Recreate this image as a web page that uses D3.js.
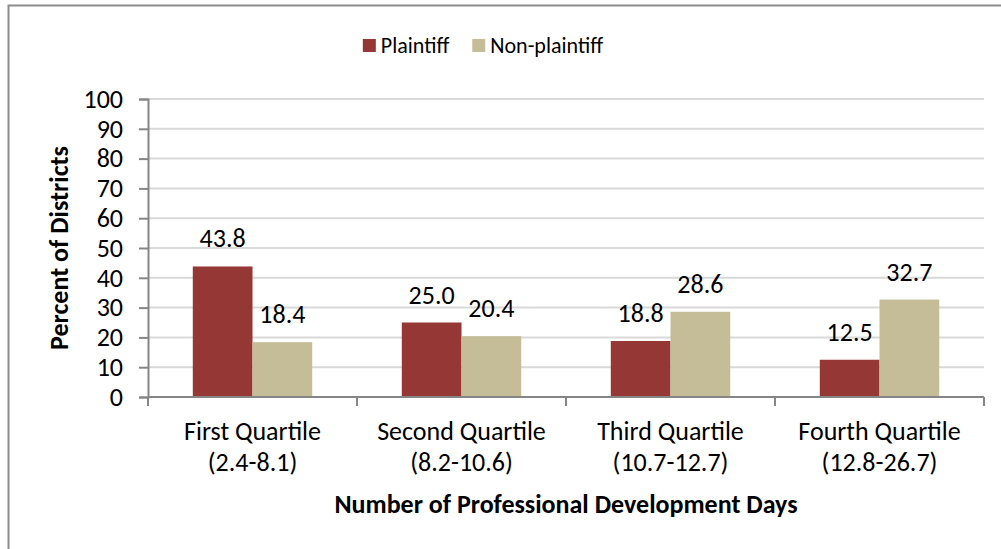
<!DOCTYPE html>
<html>
<head>
<meta charset="utf-8">
<script src="https://cdn.jsdelivr.net/npm/d3@7"></script>
<style>
  body { margin: 0; background: #fff; }
  text { font-family: Calibri, Carlito, Lato, sans-serif; fill: #000; }
</style>
</head>
<body>
<script>
// chart data
var categories = ['First Quartile', 'Second Quartile', 'Third Quartile', 'Fourth Quartile'];
var ranges = ['(2.4-8.1)', '(8.2-10.6)', '(10.7-12.7)', '(12.8-26.7)'];
var seriesNames = ['Plaintiff', 'Non-plaintiff'];
var plaintiff = [43.8, 25.0, 18.8, 12.5];
var nonPlaintiff = [18.4, 20.4, 28.6, 32.7];
var yTicks = [0, 10, 20, 30, 40, 50, 60, 70, 80, 90, 100];

var colors = { 'Plaintiff': '#953735', 'Non-plaintiff': '#c4bd97' };
var W = 1001, H = 549;
var plotLeft = 148, plotRight = 984, plotTop = 99, plotBottom = 397;

var svg = d3.select('body').append('svg')
    .attr('width', W)
    .attr('height', H);

// outer frame (only top and left edges are visible)
svg.append('path')
    .attr('d', 'M8.5,' + H + 'V5.5H' + W)
    .attr('fill', 'none')
    .attr('stroke', '#8c8c8c')
    .attr('stroke-width', 2);

var y = d3.scaleLinear().domain([0, 100]).range([plotBottom, plotTop]);
var x0 = d3.scaleBand().domain(categories).range([plotLeft, plotRight]);
var gap = x0.bandwidth() * 1.5 / 3.5;
var x1 = d3.scaleBand().domain(seriesNames).range([gap / 2, x0.bandwidth() - gap / 2]);

// gridlines
svg.append('g').selectAll('line')
    .data(yTicks.filter(function(d) { return d > 0; }))
    .enter().append('line')
    .attr('x1', plotLeft).attr('x2', plotRight)
    .attr('y1', function(d) { return y(d); })
    .attr('y2', function(d) { return y(d); })
    .attr('stroke', '#d9d9d9')
    .attr('stroke-width', 2);

// bars
var rows = categories.map(function(c, i) {
    return { cat: c, vals: [
        { name: 'Plaintiff', v: plaintiff[i] },
        { name: 'Non-plaintiff', v: nonPlaintiff[i] }
    ]};
});

var groups = svg.append('g').selectAll('g')
    .data(rows)
    .enter().append('g')
    .attr('transform', function(d) { return 'translate(' + x0(d.cat) + ',0)'; });

groups.selectAll('rect')
    .data(function(d) { return d.vals; })
    .enter().append('rect')
    .attr('x', function(d) { return x1(d.name); })
    .attr('width', x1.bandwidth())
    .attr('y', function(d) { return y(d.v); })
    .attr('height', function(d) { return plotBottom - y(d.v); })
    .attr('fill', function(d) { return colors[d.name]; });

groups.selectAll('text.val')
    .data(function(d) { return d.vals; })
    .enter().append('text')
    .attr('class', 'val')
    .attr('x', function(d) { return x1(d.name) + x1.bandwidth() / 2; })
    .attr('y', function(d) { return y(d.v) - 19; })
    .attr('text-anchor', 'middle')
    .style('font-size', '26px')
    .text(function(d) { return d.v.toFixed(1); });

// y axis
var yAxis = svg.append('g')
    .attr('transform', 'translate(' + plotLeft + ',0)')
    .call(d3.axisLeft(y).tickValues(yTicks).tickSize(9).tickPadding(16));
yAxis.select('.domain').attr('stroke', '#868686').attr('stroke-width', 2);
yAxis.selectAll('.tick line').attr('stroke', '#868686').attr('stroke-width', 2);
yAxis.selectAll('.tick text')
    .attr('fill', '#000')
    .style('font-family', 'Calibri, Carlito, Lato, sans-serif')
    .style('font-size', '26px');

// x axis line + ticks at band edges
var xAxis = svg.append('g');
xAxis.append('line')
    .attr('x1', plotLeft).attr('x2', plotRight)
    .attr('y1', plotBottom).attr('y2', plotBottom)
    .attr('stroke', '#868686').attr('stroke-width', 2);
var edges = categories.map(function(c) { return x0(c); }).concat([plotRight]);
xAxis.selectAll('line.tk')
    .data(edges)
    .enter().append('line')
    .attr('class', 'tk')
    .attr('x1', function(d) { return d; })
    .attr('x2', function(d) { return d; })
    .attr('y1', plotBottom).attr('y2', plotBottom + 9)
    .attr('stroke', '#868686').attr('stroke-width', 2);

var catLabels = xAxis.selectAll('text')
    .data(categories)
    .enter().append('text')
    .attr('text-anchor', 'middle')
    .style('font-size', '26px');
catLabels.append('tspan')
    .attr('x', function(d) { return x0(d) + x0.bandwidth() / 2; })
    .attr('y', 440)
    .text(function(d) { return d; });
catLabels.append('tspan')
    .attr('x', function(d) { return x0(d) + x0.bandwidth() / 2; })
    .attr('y', 471)
    .text(function(d, i) { return ranges[i]; });

// axis titles
svg.append('text')
    .attr('transform', 'translate(68,248) rotate(-90)')
    .attr('text-anchor', 'middle')
    .style('font-size', '26px')
    .style('font-weight', 'bold')
    .text('Percent of Districts');

svg.append('text')
    .attr('x', (plotLeft + plotRight) / 2)
    .attr('y', 513)
    .attr('text-anchor', 'middle')
    .style('font-size', '26px')
    .style('font-weight', 'bold')
    .text('Number of Professional Development Days');

// legend
var legend = svg.append('g');
var lx = 0;
seriesNames.forEach(function(name) {
    var item = legend.append('g').attr('transform', 'translate(' + lx + ',0)');
    item.append('rect')
        .attr('x', 0).attr('y', 39)
        .attr('width', 13).attr('height', 13)
        .attr('fill', colors[name]);
    var t = item.append('text')
        .attr('x', 18).attr('y', 53)
        .style('font-size', '22px')
        .text(name);
    lx += 18 + t.node().getComputedTextLength() + 23;
});
var lw = legend.node().getBBox().width;
legend.attr('transform', 'translate(' + (483 - lw / 2) + ',0)');
</script>
</body>
</html>
